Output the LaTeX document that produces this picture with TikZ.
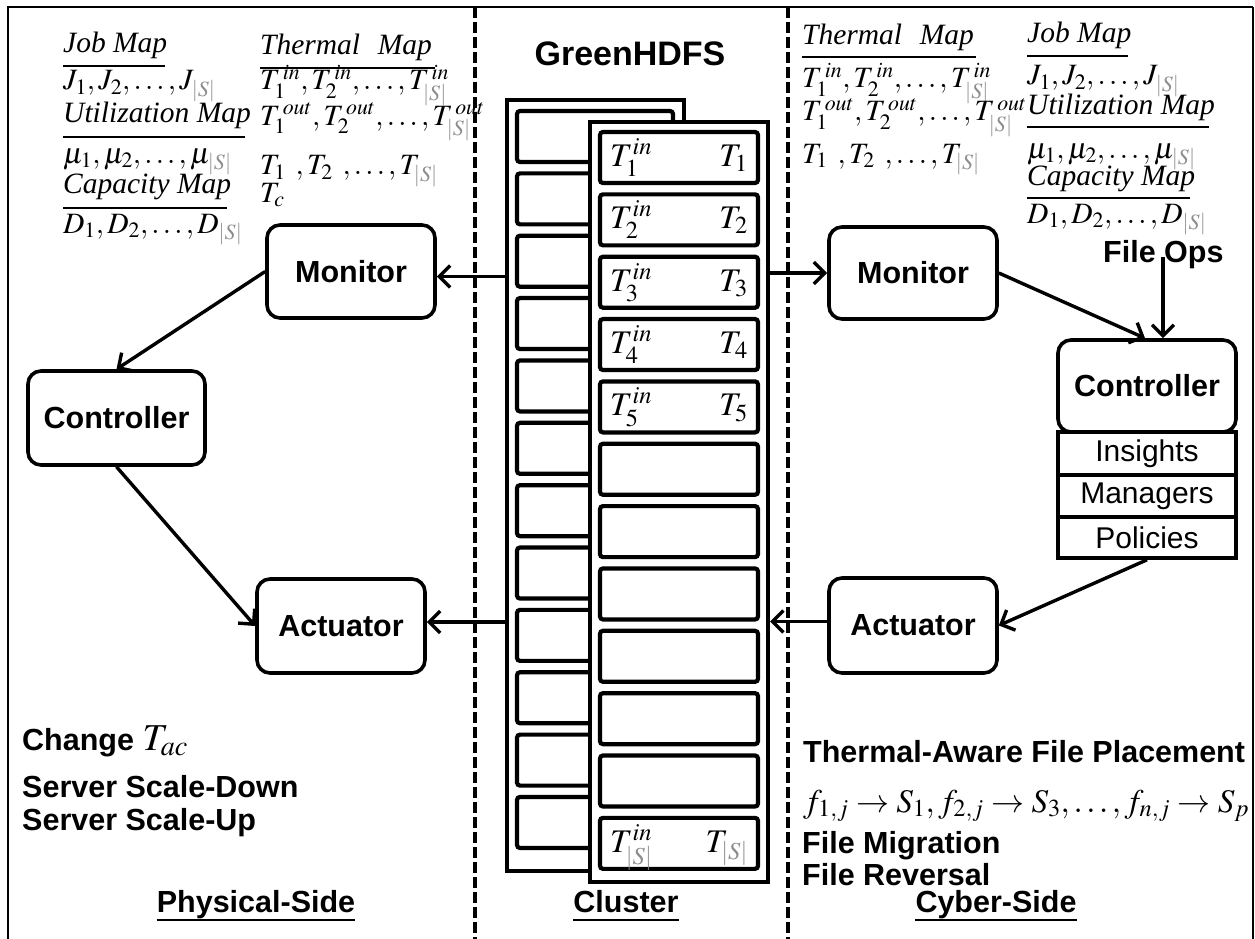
\documentclass[tikz,border=0pt]{standalone}
\usepackage{mathptmx}
\usepackage{fontspec}
\setmainfont{Liberation Serif}
\newfontfamily\arial{Liberation Sans}
\usetikzlibrary{arrows.meta}
\newcommand\sansbold{\arial\bfseries\fontsize{30.5}{34}\selectfont}
\newcommand\sansreg{\arial\fontsize{30}{34}\selectfont}
\newcommand\serifsz{\fontsize{29.5}{32}\selectfont}
\newcommand\Sabs{{\color{black!45}|S|}}
\begin{document}
\begin{tikzpicture}[x=1pt,y=-1pt,
  frameline/.style={line width=2.8pt},
  divider/.style={line width=3.2pt, dash pattern=on 11pt off 4pt},
  block/.style={draw, line width=3.6pt, rounded corners=13pt, inner sep=0pt, font=\sansbold, fill=white},
  stackbox/.style={draw, line width=3.6pt, inner sep=0pt, minimum width=178pt, font=\sansreg},
  rack/.style={draw, line width=4pt, fill=white, inner sep=0pt},
  slot/.style={draw, line width=4.2pt, rounded corners=3pt, inner sep=0pt, fill=white},
  txt/.style={anchor=base west, inner sep=0pt, font=\serifsz},
  slottxt/.style={anchor=base west, inner sep=0pt, font=\fontsize{33}{36}\selectfont},
  label/.style={anchor=base west, inner sep=0pt, font=\sansbold},
  rule/.style={line width=1.6pt},
  arr/.style={line width=3.4pt, -{Straight Barb[length=11pt,width=22pt]}},
]
\useasboundingbox (0,0) rectangle (1255,939);

% outer frame and section dividers
\draw[frameline] (8,939) -- (8,7) -- (1253,7);
\draw[line width=1.5pt] (1253,7) -- (1253,939);
\draw[divider] (475,7) -- (475,939);
\draw[divider] (788,7) -- (788,939);

% ---------- cluster ----------
\node[font=\arial\bfseries\fontsize{34}{36}\selectfont, anchor=base, inner sep=0pt] (title) at (630,66) {GreenHDFS};
\node[rack, minimum width=177pt, minimum height=771pt] (back) at (595.5,485.5) {};
\foreach \i in {0,...,11}
  \node[slot, minimum width=156pt, minimum height=51pt] (bs\i) at (595,136.5+62.36*\i) {};
\node[rack, minimum width=178pt, minimum height=760pt] (front) at (679,502) {};
\foreach \i in {1,...,12}
  \node[slot, minimum width=158pt, minimum height=51pt] (fs\i) at (679,157.5+62.35*\i-62.35) {};
\foreach \i/\s in {1/1,2/2,3/3,4/4,5/5,12/\Sabs} {
  \node[slottxt] at ([xshift=12pt,yshift=-9pt]fs\i.west) {$T_{\s}^{in}$};
  \node[slottxt, anchor=base east] at ([xshift=-12pt,yshift=-9pt]fs\i.east) {$T_{\s}$};
}

% ---------- physical side ----------
\node[txt] (jmL) at (63,53) {\textit{Job Map}};
\draw[rule] (63,66) -- (165,66);
\node[txt] (jL) at (63,90) {$J_1, J_2, \ldots, J_{\Sabs}$};
\node[txt] (umL) at (63,123) {\textit{Utilization Map}};
\draw[rule] (63,137) -- (245,137);
\node[txt] (muL) at (63,163) {$\mu_1, \mu_2, \ldots, \mu_{\Sabs}$};
\node[txt] (cmL) at (63,193) {\textit{Capacity Map}};
\draw[rule] (63,208) -- (227,208);
\node[txt] (dL) at (63,233) {$D_1, D_2, \ldots, D_{\Sabs}$};

\node[txt] (tmL) at (260,55) {\textit{Thermal}\hspace{0.6em}\textit{Map}};
\draw[rule] (260,68) -- (435,68);
\node[txt] (tinL) at (260,90) {$T_1^{\,in}, T_2^{\,in}, \ldots, T_{\Sabs}^{\,in}$};
\node[txt] (toutL) at (260,125) {$T_1^{\,out}, T_2^{\,out}, \ldots, T_{\Sabs}^{\,out}$};
\node[txt] (tL) at (260,175) {$T_1\;\,, T_2\;\,, \ldots, T_{\Sabs}$};
\node[txt] (tcL) at (260,202) {$T_c$};

\node[block, minimum width=168pt, minimum height=93pt] (monL) at (351,271.5) {Monitor};
\node[block, minimum width=177pt, minimum height=94pt] (ctlL) at (116.5,418) {Controller};
\node[block, minimum width=168pt, minimum height=94pt] (actL) at (341,626) {Actuator};

\draw[arr] ([yshift=-5pt]monL.east -| back.west) -- ([yshift=-5pt]monL.east);
\draw[arr] (monL.west) -- (ctlL.north);
\draw[arr] (ctlL.south) -- (actL.west);
\draw[arr] ([yshift=4pt]actL.east -| back.west) -- ([yshift=4pt]actL.east);

\node[label] (chg) at (22,750) {Change \fontsize{38}{40}\selectfont$T_{ac}$};
\node[label] (sdown) at (22,797) {Server Scale-Down};
\node[label] (sup) at (22,830) {Server Scale-Up};

% ---------- cyber side ----------
\node[txt] (tmR) at (802,45) {\textit{Thermal}\hspace{0.6em}\textit{Map}};
\draw[rule] (802,57) -- (976,57);
\node[txt] (tinR) at (802,88) {$T_1^{\,in}, T_2^{\,in}, \ldots, T_{\Sabs}^{\,in}$};
\node[txt] (toutR) at (802,121) {$T_1^{\,out}, T_2^{\,out}, \ldots, T_{\Sabs}^{\,out}$};
\node[txt] (tR) at (802,163) {$T_1\;\,, T_2\;\,, \ldots, T_{\Sabs}$};

\node[txt] (jmR) at (1027,43) {\textit{Job Map}};
\draw[rule] (1027,56) -- (1128,56);
\node[txt] (jR) at (1027,85) {$J_1, J_2, \ldots, J_{\Sabs}$};
\node[txt] (umR) at (1027,115) {\textit{Utilization Map}};
\draw[rule] (1027,127) -- (1209,127);
\node[txt] (muR) at (1027,158) {$\mu_1, \mu_2, \ldots, \mu_{\Sabs}$};
\node[txt] (cmR) at (1027,185) {\textit{Capacity Map}};
\draw[rule] (1027,198) -- (1190,198);
\node[txt] (dR) at (1027,223) {$D_1, D_2, \ldots, D_{\Sabs}$};

\node[label] (fops) at (1103,262) {File Ops};
\coordinate (fo) at (1163,257);

\node[block, minimum width=168pt, minimum height=92pt] (monR) at (913,273) {Monitor};
\node[stackbox, minimum height=43pt] (ins) at (1147,453.5) {Insights};
\node[stackbox, minimum height=42pt] (man) at (1147,496) {Managers};
\node[stackbox, minimum height=41pt] (pol) at (1147,537.5) {Policies};
\node[block, minimum width=178pt, minimum height=92pt] (ctlR) at (1147,386) {Controller};
\node[block, minimum width=168pt, minimum height=95pt] (actR) at (913,625.5) {Actuator};

\draw[arr] (monR.west -| front.east) -- (monR.west);
\draw[arr] (monR.east) -- ([xshift=-2pt]ctlR.north);
\draw[arr] (fo) -- (fo |- ctlR.north);
\draw[arr] (pol.south) -- (actR.east);
\draw[arr] ([yshift=4pt]actR.west) -- ([yshift=4pt]actR.west -| front.east);

\node[label] (place) at (803,762) {Thermal-Aware File Placement};
\node[txt, font=\fontsize{33}{36}\selectfont] (fmap) at (803,812) {$f_{1,j}\rightarrow S_1, f_{2,j}\rightarrow S_3,\ldots, f_{n,j}\rightarrow S_p$};
\node[label] (mig) at (802,853) {File Migration};
\node[label] (rev) at (802,885) {File Reversal};

% ---------- section captions ----------
\foreach \n/\x/\t in {phys/256/Physical-Side, clus/626/Cluster, cyber/996/Cyber-Side} {
  \node[label, anchor=base] (\n) at (\x,912) {\t};
  \draw[line width=2.2pt] ([yshift=-8pt]\n.base west) -- ([yshift=-8pt]\n.base east);
}
\end{tikzpicture}
\end{document}
